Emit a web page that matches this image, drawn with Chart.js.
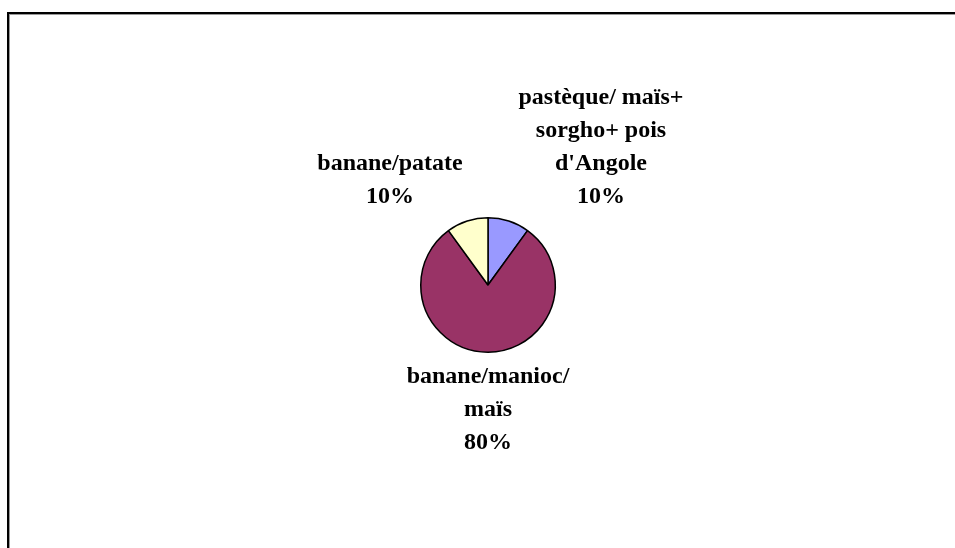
<!DOCTYPE html>
<html>
<head>
<meta charset="utf-8">
<script src="https://cdn.jsdelivr.net/npm/chart.js@4/dist/chart.umd.min.js"></script>
<style>
  html, body { margin: 0; padding: 0; background: #fff; overflow: hidden; }
  #wrap { position: relative; width: 955px; height: 548px; }
  #frame { position: absolute; left: 7px; top: 12px; width: 960px; height: 560px;
           border-top: 2px solid #000; border-left: 2px solid #000;
           box-shadow: 1px 1px 0 #999 inset; }
</style>
</head>
<body>
<div id="wrap">
  <div id="frame"></div>
  <canvas id="pie"></canvas>
</div>
<script>
// Crop associations — share of plots
const categories = [
  ['pastèque/ maïs+', 'sorgho+ pois', "d'Angole"],
  ['banane/manioc/', 'maïs'],
  ['banane/patate']
];
const values = [10, 80, 10];
const sliceColors = ['#9999FF', '#993366', '#FFFFCC'];

// data labels, placed relative to the pie centre
const pieLabels = {
  id: 'pieLabels',
  afterDraw(chart, args, opts) {
    const ctx = chart.ctx;
    const arcs = chart.getDatasetMeta(0).data;
    const total = values.reduce((a, b) => a + b, 0);
    ctx.save();
    ctx.font = 'bold 24px "Liberation Serif", "Times New Roman", serif';
    ctx.fillStyle = '#000';
    ctx.textAlign = 'center';
    ctx.textBaseline = 'middle';
    arcs.forEach((arc, i) => {
      const lines = categories[i].concat([Math.round(values[i] / total * 100) + '%']);
      const cx = arc.x + opts.offsets[i][0];
      const cy = arc.y + opts.offsets[i][1];
      const top = cy - (lines.length - 1) * opts.lineHeight / 2;
      lines.forEach((t, k) => ctx.fillText(t, cx, top + k * opts.lineHeight));
    });
    ctx.restore();
  }
};

new Chart(document.getElementById('pie'), {
  type: 'pie',
  data: {
    labels: categories.map(c => c.join(' ')),
    datasets: [{ data: values, backgroundColor: sliceColors,
      borderColor: '#000', borderWidth: 1.5 }]
  },
  options: {
    responsive: true, maintainAspectRatio: false, animation: false,
    layout: { padding: { top: 217, bottom: 195, left: 100, right: 79 } },
    plugins: {
      legend: { display: false },
      tooltip: { enabled: false },
      pieLabels: { lineHeight: 33, offsets: [[113, -138], [0, 125], [-98, -105]] }
    }
  },
  plugins: [pieLabels]
});
</script>
</body>
</html>
